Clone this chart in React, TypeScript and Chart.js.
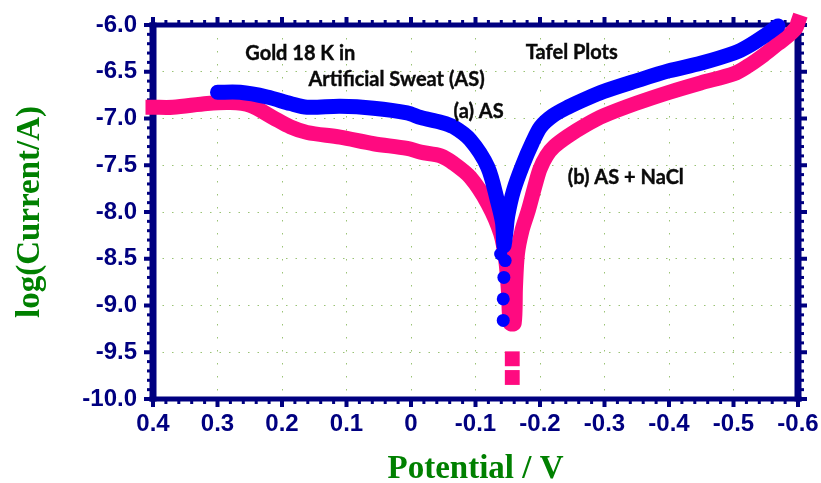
import React, { useEffect, useRef } from "react";
import { Chart, registerables } from "chart.js";

Chart.register(...registerables);

// ---- Data (potential in V, log current in A) ----
const blueLineX = [0.300, 0.265, 0.223, 0.187, 0.161, 0.110, 0.058, 0.006, -0.015, -0.046, -0.066, -0.092, -0.119, -0.134, -0.142, -0.144, -0.147, -0.150, -0.159, -0.173, -0.188, -0.201, -0.220, -0.243, -0.271, -0.299, -0.348, -0.400, -0.449, -0.501, -0.522, -0.547, -0.569];
const blueLineY = [-6.72, -6.72, -6.77, -6.84, -6.88, -6.87, -6.89, -6.94, -6.99, -7.04, -7.09, -7.23, -7.52, -7.88, -8.12, -8.36, -8.22, -8.04, -7.77, -7.50, -7.26, -7.09, -6.97, -6.88, -6.79, -6.71, -6.60, -6.49, -6.41, -6.30, -6.23, -6.12, -6.01];
const blueTipX = [-0.139, -0.146, -0.144, -0.143, -0.143];
const blueTipY = [-8.45, -8.52, -8.70, -8.93, -9.16];

const pinkLineX = [0.400, 0.369, 0.316, 0.280, 0.249, 0.214, 0.187, 0.161, 0.110, 0.058, 0.006, -0.015, -0.046, -0.066, -0.092, -0.119, -0.139, -0.147, -0.151, -0.154, -0.160, -0.162, -0.165, -0.172, -0.182, -0.193, -0.200, -0.210, -0.222, -0.243, -0.271, -0.299, -0.348, -0.400, -0.449, -0.501, -0.522, -0.547, -0.569, -0.584, -0.597, -0.600];
const pinkLineY = [-6.88, -6.88, -6.84, -6.83, -6.86, -6.99, -7.09, -7.15, -7.20, -7.27, -7.32, -7.36, -7.40, -7.48, -7.63, -7.91, -8.23, -8.52, -8.84, -9.19, -9.19, -8.80, -8.45, -8.20, -7.98, -7.70, -7.54, -7.40, -7.30, -7.19, -7.07, -6.97, -6.84, -6.72, -6.62, -6.52, -6.44, -6.32, -6.20, -6.12, -6.03, -5.97];
const pinkTipX = [-0.157, -0.157];
const pinkTipY = [-9.57, -9.77];

const xTickValues = [0.4, 0.3, 0.2, 0.1, 0, -0.1, -0.2, -0.3, -0.4, -0.5, -0.6];
const yTickValues = [-6.0, -6.5, -7.0, -7.5, -8.0, -8.5, -9.0, -9.5, -10.0];

const noteTexts = ["Gold 18 K in", "Artificial Sweat (AS)", "Tafel Plots", "(a) AS", "(b) AS + NaCl"];
const noteX = [0.257, 0.159, -0.178, -0.066, -0.243];
const noteY = [-6.375, -6.654, -6.365, -6.997, -7.705];

const NAVY = "#000080";
const GREEN = "#008000";
const BLUE = "#0000FF";
const PINK = "#FF0A80";

const zip = (xs: number[], ys: number[]) => xs.map((x, i) => ({ x, y: ys[i] }));

const framePlugin = {
  id: "frame",
  beforeDatasetsDraw(chart: any) {
    const { ctx, chartArea } = chart;
    const { left, right, top, bottom } = chartArea;
    const xs = chart.scales.x;
    const ys = chart.scales.y;
    ctx.save();
    ctx.fillStyle = NAVY;
    ctx.fillRect(left - 3.5, top - 2.5, 7, bottom - top + 5);
    ctx.fillRect(right - 3.5, top - 2.5, 7, bottom - top + 5);
    ctx.fillRect(left - 3.5, top - 2.5, right - left + 7, 5);
    ctx.fillRect(left - 3.5, bottom - 2.5, right - left + 7, 5);
    for (let i = 0; i <= 50; i++) {
      const v = -0.6 + i * 0.02;
      const px = xs.getPixelForValue(v);
      const major = i % 5 === 0;
      const len = major ? 8 : 5;
      const w = major ? 4 : 3;
      ctx.fillRect(px - w / 2, bottom, w, len);
      ctx.fillRect(px - w / 2, top - len, w, len);
    }
    for (let i = 0; i <= 40; i++) {
      const v = -10 + i * 0.1;
      const py = ys.getPixelForValue(v);
      const major = i % 5 === 0;
      const len = major ? 9 : 6;
      const h = major ? 4 : 3;
      ctx.fillRect(left - len, py - h / 2, len, h);
      ctx.fillRect(right, py - h / 2, len, h);
    }
    ctx.restore();
  },
  afterDatasetsDraw(chart: any) {
    const { ctx } = chart;
    const xs = chart.scales.x;
    const ys = chart.scales.y;
    ctx.save();
    ctx.fillStyle = "#0a0a0a";
    ctx.strokeStyle = "#0a0a0a";
    ctx.lineWidth = 0.4;
    ctx.font = "bold 20px Lato, 'Open Sans', sans-serif";
    ctx.textAlign = "left";
    ctx.textBaseline = "alphabetic";
    noteTexts.forEach((t, i) => {
      const px = xs.getPixelForValue(noteX[i]);
      const py = ys.getPixelForValue(noteY[i]);
      ctx.fillText(t, px, py);
      ctx.strokeText(t, px, py);
    });
    ctx.restore();
  },
};

export default function App() {
  const canvasRef = useRef<HTMLCanvasElement | null>(null);

  useEffect(() => {
    const canvas = canvasRef.current;
    if (!canvas) return;
    const tickFont = { family: "'Liberation Sans', Arial, sans-serif", size: 24, weight: "bold" as const };
    const titleFont = { family: "'Liberation Serif', 'Times New Roman', serif", size: 33, weight: "bold" as const };
    const chart = new Chart(canvas, {
      type: "scatter",
      data: {
        datasets: [
          {
            label: "(a) AS",
            data: zip(blueLineX, blueLineY),
            showLine: true,
            borderColor: BLUE,
            backgroundColor: BLUE,
            borderWidth: 15,
            borderCapStyle: "round",
            borderJoinStyle: "round",
            pointRadius: 0,
            tension: 0.3,
            clip: false,
          },
          {
            label: "(a) AS tip",
            data: zip(blueTipX, blueTipY),
            showLine: false,
            pointStyle: "circle",
            pointRadius: 6.5,
            borderWidth: 0,
            backgroundColor: BLUE,
            borderColor: BLUE,
            clip: false,
          },
          {
            label: "(b) AS + NaCl",
            data: zip(pinkLineX, pinkLineY),
            showLine: true,
            borderColor: PINK,
            backgroundColor: PINK,
            borderWidth: 15,
            borderCapStyle: "square",
            borderJoinStyle: "round",
            pointRadius: 0,
            tension: 0.3,
            clip: false,
          },
          {
            label: "(b) AS + NaCl tip",
            data: zip(pinkTipX, pinkTipY),
            showLine: false,
            pointStyle: "rect",
            pointRadius: 10.5,
            borderWidth: 0,
            backgroundColor: PINK,
            borderColor: PINK,
            clip: false,
          },
        ],
      },
      options: {
        responsive: false,
        animation: false,
        devicePixelRatio: 1,
        layout: { padding: { left: 0, top: 25, right: 23, bottom: 0 } },
        plugins: {
          legend: { display: false },
          tooltip: { enabled: false },
        },
        scales: {
          x: {
            type: "linear",
            position: "bottom",
            reverse: true,
            min: -0.6,
            max: 0.4,
            afterFit: (s: any) => {
              s.height = 84;
              s.paddingLeft = 0;
              s.paddingRight = 0;
            },
            afterBuildTicks: (s: any) => {
              s.ticks = xTickValues.map((v) => ({ value: v }));
            },
            ticks: {
              color: NAVY,
              font: tickFont,
              padding: 11,
              maxRotation: 0,
              autoSkip: false,
              callback: (v: any) => {
                const r = Math.round(Number(v) * 10) / 10;
                return r === 0 ? "0" : String(r);
              },
            },
            grid: {
              color: "rgba(120,175,70,0.75)",
              lineWidth: 1,
              drawTicks: false,
            },
            border: { display: false, dash: [1.5, 11.5] },
            title: {
              display: true,
              text: "Potential / V",
              color: GREEN,
              font: { ...titleFont, lineHeight: 0.85 },
              padding: { top: 0, bottom: 0 },
            },
          },
          y: {
            type: "linear",
            position: "left",
            min: -10,
            max: -6,
            afterFit: (s: any) => {
              s.width = 153;
              s.paddingTop = 0;
              s.paddingBottom = 0;
            },
            afterBuildTicks: (s: any) => {
              s.ticks = yTickValues.map((v) => ({ value: v }));
            },
            ticks: {
              color: NAVY,
              font: tickFont,
              padding: 16,
              autoSkip: false,
              callback: (v: any) => Number(v).toFixed(1),
            },
            grid: {
              color: "rgba(120,175,70,0.75)",
              lineWidth: 1,
              drawTicks: false,
            },
            border: { display: false, dash: [1.5, 8] },
            title: {
              display: true,
              text: "log(Current/A)",
              color: GREEN,
              font: { ...titleFont, lineHeight: 1.2 },
              padding: { top: 11, bottom: 0 },
            },
          },
        },
      },
      plugins: [framePlugin],
    } as any);
    return () => {
      chart.destroy();
    };
  }, []);

  return (
    <div style={{ position: "absolute", left: 0, top: 0, width: 821, height: 483, background: "#fff" }}>
      <canvas ref={canvasRef} width={821} height={483} style={{ display: "block" }} />
    </div>
  );
}
